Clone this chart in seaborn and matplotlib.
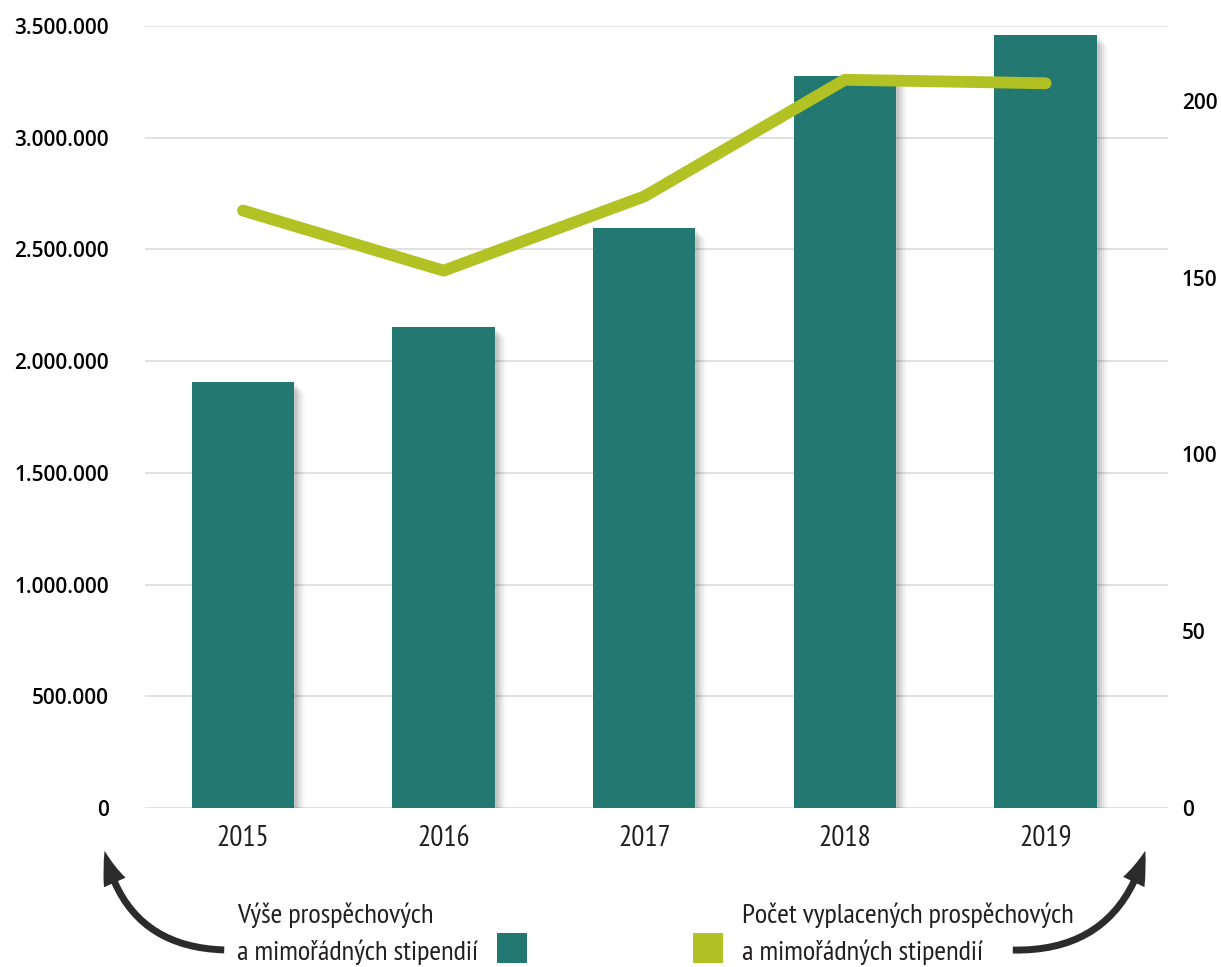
import matplotlib
matplotlib.use("Agg")
import matplotlib.pyplot as plt
import matplotlib.patheffects as pe
from matplotlib.patches import FancyArrowPatch, Rectangle
import numpy as np
import pandas as pd
import seaborn as sns

years = ["2015", "2016", "2017", "2018", "2019"]
amounts = [1907000, 2153000, 2596000, 3276000, 3460000]
counts = [169, 152, 173, 206, 205]
left_ticks = [0, 500000, 1000000, 1500000, 2000000, 2500000, 3000000, 3500000]
right_ticks = [0, 50, 100, 150, 200]
label_bars = ["Výše prospěchových", "a mimořádných stipendií"]
label_line = ["Počet vyplacených prospěchových", "a mimořádných stipendií"]

BAR = "#237872"
LINE = "#b2c224"
TEXT = "#231f20"
NARROW = ["PT Sans Narrow", "Roboto Condensed", "Liberation Sans Narrow", "DejaVu Sans"]

sns.set_theme(style="white")
plt.rcParams["font.family"] = ["Open Sans", "DejaVu Sans"]

df = pd.DataFrame({"year": years, "amount": amounts, "count": counts})

fig = plt.figure(figsize=(12.21, 9.67), dpi=100)
ax = fig.add_axes([0.1188, 0.1644, 0.8378, 0.8087])

sns.barplot(data=df, x="year", y="amount", color=BAR, width=0.51, saturation=1, ax=ax, zorder=3)
# soft drop shadow
shadow = [pe.SimplePatchShadow(offset=(d, -d), shadow_rgbFace="black", alpha=a)
          for d, a in [(8, 0.025), (6.5, 0.035), (5, 0.05), (3.5, 0.06), (2, 0.07)]] + [pe.Normal()]
for p in ax.patches:
    p.set_path_effects(shadow)
    p.set_edgecolor("none")

ax.set_ylim(0, 3500000)
ax.set_xlim(-0.488, 4.61)
ax.set_yticks(left_ticks)
ax.set_yticklabels([f"{v:,}".replace(",", ".") for v in left_ticks],
                   fontsize=15, fontweight="semibold", color="black")
ax.set_xticks(range(len(years)))
ax.set_xticklabels(years, family=NARROW, fontsize=21, color=TEXT)
ax.tick_params(axis="x", length=0, pad=12)
ax.tick_params(axis="y", length=0, pad=26)
ax.grid(axis="y", color="#dcdcdc", linewidth=1.2, zorder=0)
ax.set_axisbelow(True)
ax.set_xlabel("")
ax.set_ylabel("")
for s in ax.spines.values():
    s.set_visible(False)

ax2 = ax.twinx()
sns.lineplot(x=np.arange(len(years)), y=counts, color=LINE, linewidth=8.5, ax=ax2,
             solid_capstyle="round", solid_joinstyle="round", zorder=5)
ax2.set_ylim(0, 221.2)
ax2.set_yticks(right_ticks)
ax2.set_yticklabels([str(v) for v in right_ticks], fontsize=15, fontweight="semibold", color="black")
ax2.tick_params(axis="y", length=0, pad=10)
ax2.set_ylabel("")
ax2.grid(False)
for s in ax2.spines.values():
    s.set_visible(False)
ax2.set_xlim(-0.488, 4.61)

# legend / annotations at the bottom
for lines, x in [(label_bars, 237), (label_line, 742)]:
    for line, y in zip(lines, [923, 960]):
        fig.text(x / 1221, 1 - y / 967, line, family=NARROW, fontsize=20.5, color=TEXT,
                 va="baseline", ha="left")
fig.add_artist(Rectangle((497 / 1221, 1 - 963 / 967), 30 / 1221, 30 / 967,
                         transform=fig.transFigure, facecolor=BAR, edgecolor="none"))
fig.add_artist(Rectangle((693 / 1221, 1 - 963 / 967), 30 / 1221, 30 / 967,
                         transform=fig.transFigure, facecolor=LINE, edgecolor="none"))

arrow_style = "Simple,head_width=17,head_length=24,tail_width=5"
fig.add_artist(FancyArrowPatch((227 / 1221, 1 - 950 / 967), (104 / 1221, 1 - 848 / 967),
                               transform=fig.transFigure, connectionstyle="arc3,rad=-0.4",
                               arrowstyle=arrow_style, color="#2b2b2b", lw=0))
fig.add_artist(FancyArrowPatch((1010 / 1221, 1 - 950 / 967), (1146 / 1221, 1 - 848 / 967),
                               transform=fig.transFigure, connectionstyle="arc3,rad=0.4",
                               arrowstyle=arrow_style, color="#2b2b2b", lw=0))

fig.savefig("out.png", dpi=100)
